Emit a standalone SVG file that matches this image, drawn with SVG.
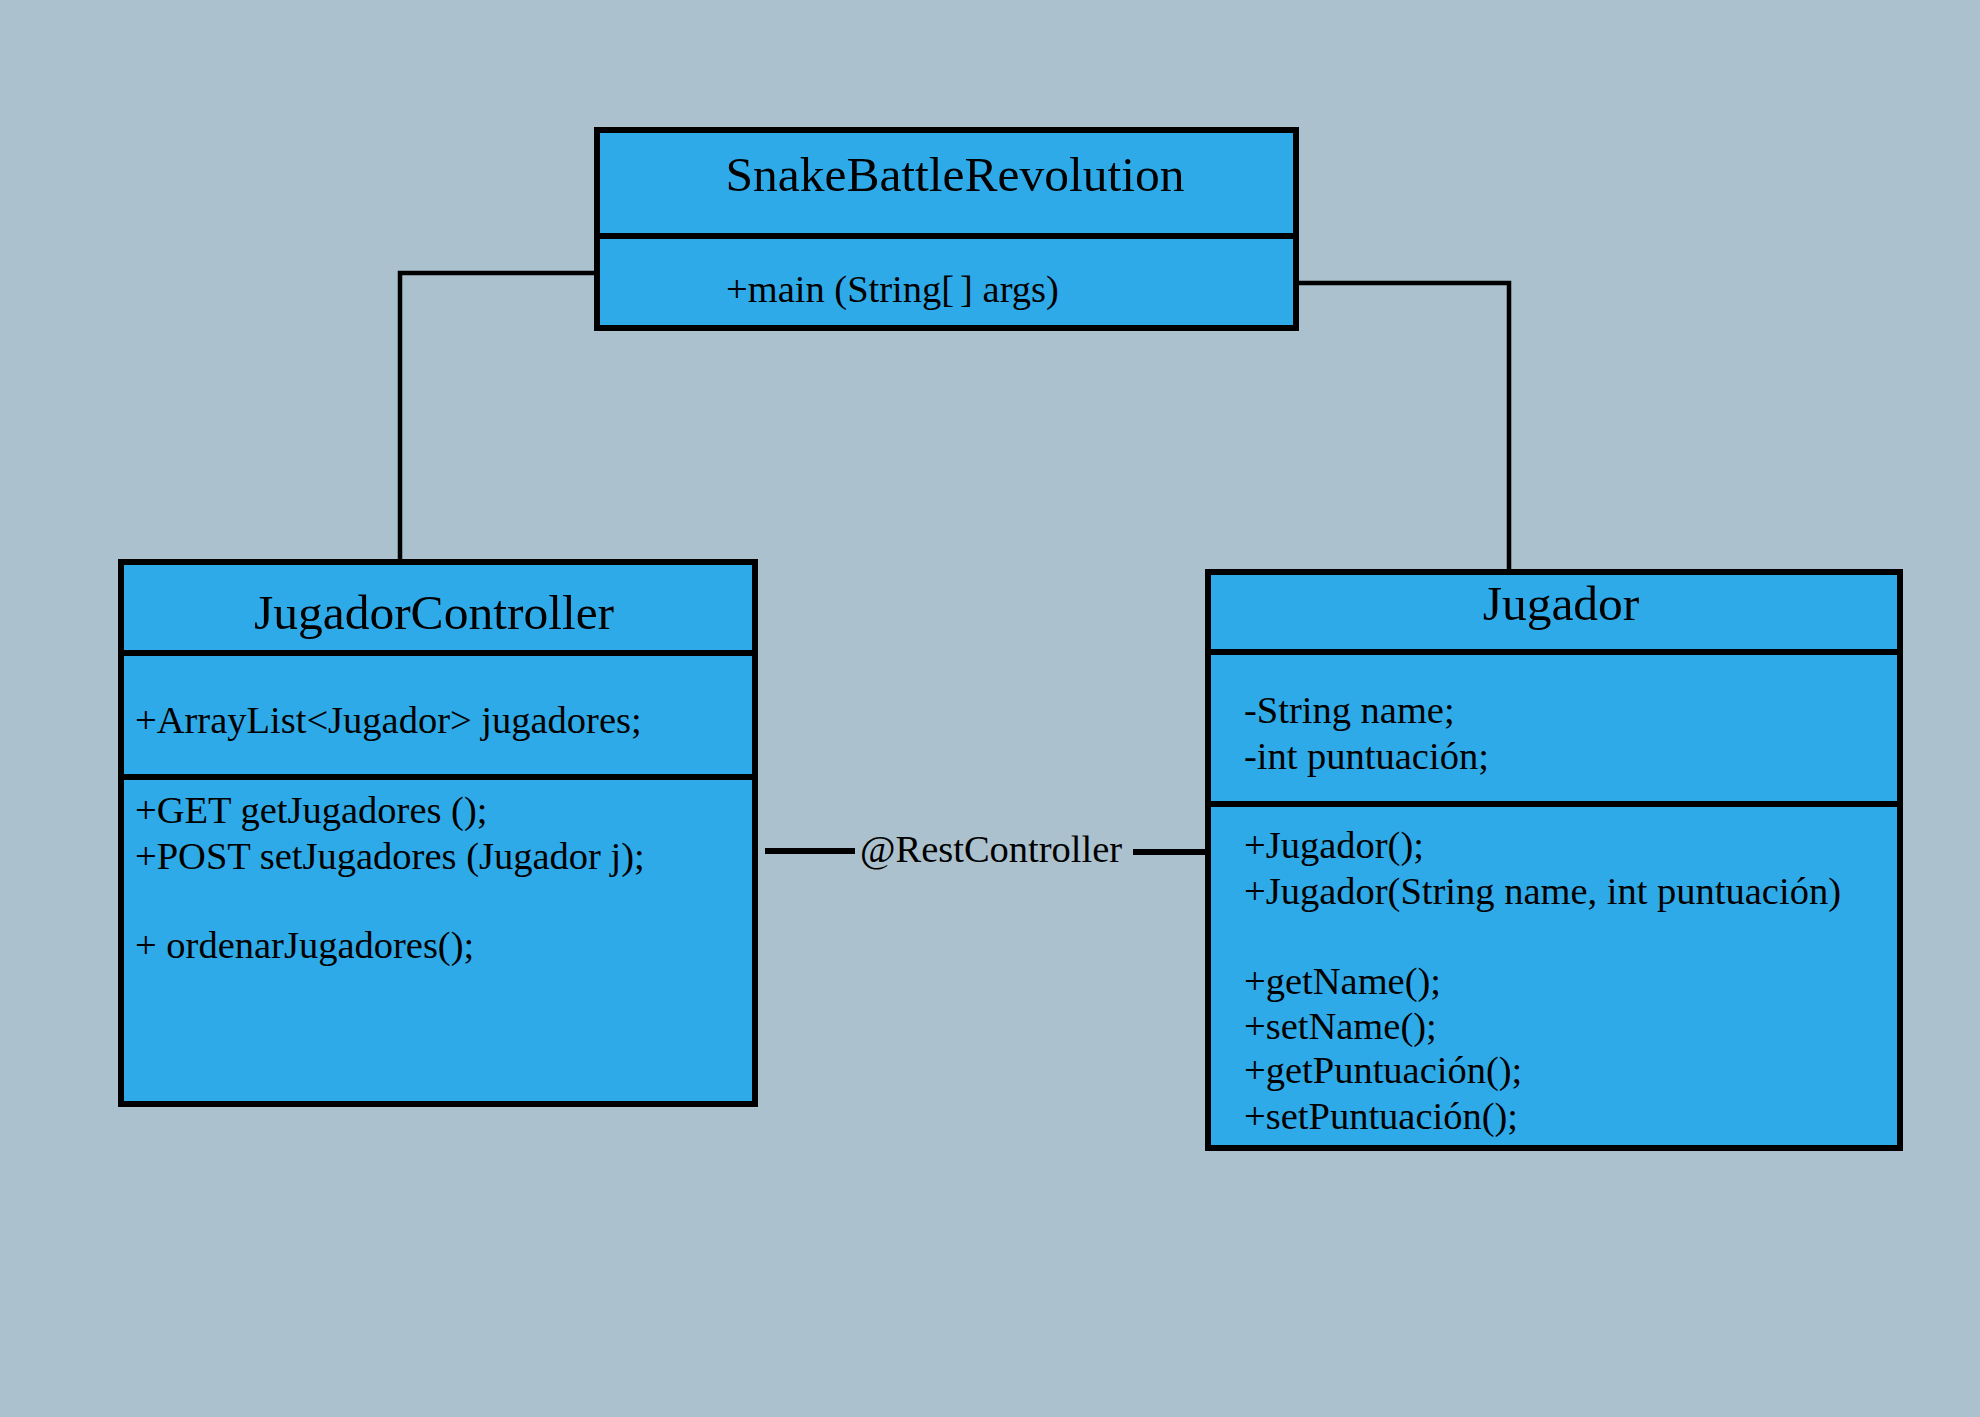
<svg xmlns="http://www.w3.org/2000/svg" width="1980" height="1417" viewBox="0 0 1980 1417">
<style>
.box{fill:#2faae8;stroke:#000;stroke-width:6}
.div{stroke:#000;stroke-width:6}
.conn{fill:none;stroke:#000;stroke-width:4.5}
.thick{stroke:#000;stroke-width:6}
.title{font-family:"Liberation Serif",serif;font-size:49.5px;fill:#000;text-anchor:middle}
.txt{font-family:"Liberation Serif",serif;font-size:38.5px;fill:#000}
</style>
<rect width="1980" height="1417" fill="#abc1cd"/>
<g id="connectors">
<polyline class="conn" points="597,273 400,273 400,562"/>
<polyline class="conn" points="1296,283 1509,283 1509,572"/>
<line class="thick" x1="765" y1="851" x2="855" y2="851"/>
<line class="thick" x1="1133" y1="852" x2="1206" y2="852"/>
<text class="txt" x="860" y="862">@RestController</text>
</g>
<g id="SnakeBattleRevolution">
<rect class="box" x="597" y="130" width="699" height="198"/>
<line class="div" x1="597" y1="236" x2="1296" y2="236"/>
<text class="title" x="955" y="191">SnakeBattleRevolution</text>
<text class="txt" x="726" y="302">+main (String[<tspan dx="6">]</tspan> args)</text>
</g>
<g id="JugadorController">
<rect class="box" x="121" y="562" width="634" height="542"/>
<line class="div" x1="121" y1="653" x2="755" y2="653"/>
<line class="div" x1="121" y1="777" x2="755" y2="777"/>
<text class="title" x="434" y="629">JugadorController</text>
<text class="txt" x="135" y="733">+ArrayList&lt;Jugador&gt; jugadores;</text>
<text class="txt" x="135" y="823">+GET getJugadores ();</text>
<text class="txt" x="135" y="869">+POST setJugadores (Jugador j);</text>
<text class="txt" x="135" y="958">+ ordenarJugadores();</text>
</g>
<g id="Jugador">
<rect class="box" x="1208" y="572" width="692" height="576"/>
<line class="div" x1="1208" y1="652" x2="1900" y2="652"/>
<line class="div" x1="1208" y1="804" x2="1900" y2="804"/>
<text class="title" x="1561" y="620">Jugador</text>
<text class="txt" x="1244" y="723">-String name;</text>
<text class="txt" x="1244" y="769">-int puntuación;</text>
<text class="txt" x="1244" y="858">+Jugador();</text>
<text class="txt" x="1244" y="904">+Jugador(String name, int puntuación)</text>
<text class="txt" x="1244" y="994">+getName();</text>
<text class="txt" x="1244" y="1039">+setName();</text>
<text class="txt" x="1244" y="1083">+getPuntuación();</text>
<text class="txt" x="1244" y="1129">+setPuntuación();</text>
</g>
</svg>
